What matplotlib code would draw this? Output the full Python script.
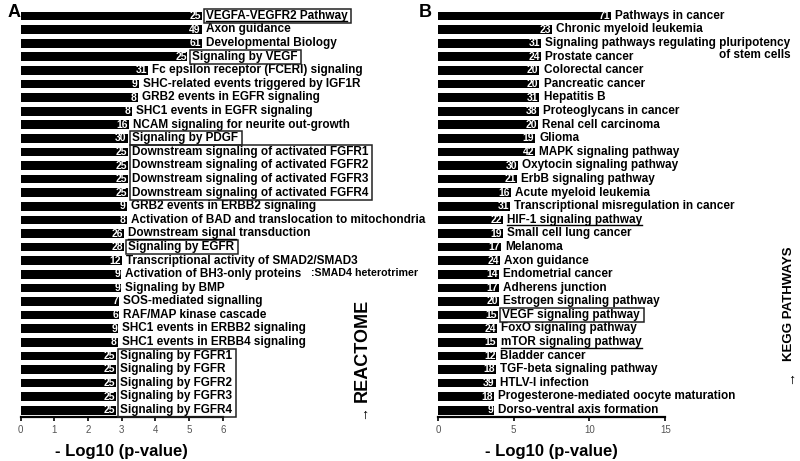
import matplotlib
matplotlib.use('Agg')
import matplotlib.pyplot as plt
from matplotlib.patches import Rectangle
from matplotlib.lines import Line2D

plt.rcParams['font.family'] = ['Liberation Sans', 'DejaVu Sans']

# panel A: REACTOME
reactome_terms = [
    "VEGFA-VEGFR2 Pathway", "Axon guidance", "Developmental Biology",
    "Signaling by VEGF", "Fc epsilon receptor (FCERI) signaling",
    "SHC-related events triggered by IGF1R", "GRB2 events in EGFR signaling",
    "SHC1 events in EGFR signaling", "NCAM signaling for neurite out-growth",
    "Signaling by PDGF",
    "Downstream signaling of activated FGFR1", "Downstream signaling of activated FGFR2",
    "Downstream signaling of activated FGFR3", "Downstream signaling of activated FGFR4",
    "GRB2 events in ERBB2 signaling",
    "Activation of BAD and translocation to mitochondria",
    "Downstream signal transduction", "Signaling by EGFR",
    "Transcriptional activity of SMAD2/SMAD3",
    "Activation of BH3-only proteins", "Signaling by BMP", "SOS-mediated signalling",
    "RAF/MAP kinase cascade", "SHC1 events in ERBB2 signaling",
    "SHC1 events in ERBB4 signaling",
    "Signaling by FGFR1", "Signaling by FGFR", "Signaling by FGFR2",
    "Signaling by FGFR3", "Signaling by FGFR4",
]
reactome_counts = [25, 49, 61, 25, 31, 9, 8, 8, 16, 30, 25, 25, 25, 25, 9, 8, 26, 28,
                   12, 9, 9, 7, 6, 9, 8, 25, 25, 25, 25, 25]
reactome_logp = [5.37, 5.37, 5.37, 4.95, 3.77, 3.50, 3.47, 3.29, 3.20, 3.17,
                 3.17, 3.17, 3.17, 3.17, 3.14, 3.14, 3.06, 3.06, 3.00, 2.97,
                 2.97, 2.91, 2.91, 2.88, 2.88, 2.82, 2.82, 2.82, 2.82, 2.82]
reactome_boxes = [[0], [3], [9], [10, 11, 12, 13], [17], [25, 26, 27, 28, 29]]
reactome_underlines = [(0, None), (16, "Downstream signal")]

# panel B: KEGG
kegg_terms = [
    "Pathways in cancer", "Chronic myeloid leukemia",
    "Signaling pathways regulating pluripotency\nof stem cells",
    "Prostate cancer", "Colorectal cancer", "Pancreatic cancer", "Hepatitis B",
    "Proteoglycans in cancer", "Renal cell carcinoma", "Glioma",
    "MAPK signaling pathway", "Oxytocin signaling pathway", "ErbB signaling pathway",
    "Acute myeloid leukemia", "Transcriptional misregulation in cancer",
    "HIF-1 signaling pathway", "Small cell lung cancer", "Melanoma", "Axon guidance",
    "Endometrial cancer", "Adherens junction", "Estrogen signaling pathway",
    "VEGF signaling pathway", "FoxO signaling pathway", "mTOR signaling pathway",
    "Bladder cancer", "TGF-beta signaling pathway", "HTLV-I infection",
    "Progesterone-mediated oocyte maturation", "Dorso-ventral axis formation",
]
kegg_counts = [71, 23, 31, 24, 20, 20, 31, 38, 20, 19, 42, 30, 21, 16, 31, 22, 19, 17,
               24, 14, 17, 20, 15, 24, 15, 12, 18, 39, 18, 9]
kegg_logp = [11.4, 7.5, 6.8, 6.8, 6.7, 6.7, 6.7, 6.65, 6.6, 6.4, 6.4, 5.3, 5.2, 4.8,
             4.75, 4.3, 4.3, 4.15, 4.1, 4.0, 4.0, 4.0, 3.95, 3.9, 3.9, 3.85, 3.85,
             3.8, 3.7, 3.7]
kegg_boxes = [[22]]
kegg_underlines = [(15, None), (24, None)]

LABEL_SIZE = 8.5

fig = plt.figure(figsize=(8, 4.61), dpi=100)
ax_a = fig.add_axes([0.026, 0.0954, 0.2525, 0.8846])
ax_b = fig.add_axes([0.5475, 0.0954, 0.284, 0.8846])


def draw_panel(ax, terms, counts, vals, xmax, ticks):
    n = len(terms)
    ax.barh(range(n), vals, height=0.64, color='black')
    ax.set_ylim(n - 0.5, -0.5)
    ax.set_xlim(0, xmax)
    ax.set_xticks(ticks)
    ax.set_yticks([])
    for s in ['top', 'right', 'left']:
        ax.spines[s].set_visible(False)
    ax.spines['bottom'].set_linewidth(1.6)
    ax.tick_params(axis='x', length=3, width=1.2, labelsize=7, labelcolor='#555555',
                   pad=3)
    ax.set_xlabel('- Log10 (p-value)', fontsize=12, fontweight='bold', labelpad=6)
    labels = []
    for i, (t, c, v) in enumerate(zip(terms, counts, vals)):
        ax.text(v - xmax * 0.004, i, str(c), ha='right', va='center', color='white',
                fontsize=7.5, fontweight='bold')
        first, _, rest = t.partition('\n')
        lab = ax.annotate(first, xy=(v, i), xytext=(3, 1.2), textcoords='offset points',
                          ha='left', va='center_baseline', fontsize=LABEL_SIZE,
                          fontweight='bold', annotation_clip=False)
        if rest:
            # second line tucked under the first, right aligned
            ax.annotate(rest, xy=(1, 0), xycoords=lab, xytext=(0, 0),
                        textcoords='offset points', ha='right', va='top',
                        fontsize=LABEL_SIZE, fontweight='bold', annotation_clip=False)
        labels.append(lab)
    return labels


labels_a = draw_panel(ax_a, reactome_terms, reactome_counts, reactome_logp, 6,
                      range(0, 7))
labels_b = draw_panel(ax_b, kegg_terms, kegg_counts, kegg_logp, 15, [0, 5, 10, 15])

ax_a.annotate(':SMAD4 heterotrimer', xy=(reactome_logp[18], 18), xytext=(136, -8.5),
              textcoords='offset points', ha='left', va='center', fontsize=7.7,
              fontweight='bold', annotation_clip=False)

fig.text(0.009, 0.972, 'A', fontsize=13, fontweight='bold', va='center')
fig.text(0.524, 0.972, 'B', fontsize=13, fontweight='bold', va='center')

fig.text(0.4525, 0.128, 'REACTOME', rotation=90, fontsize=13, fontweight='bold',
         ha='center', va='bottom')
fig.text(0.4525, 0.107, '\u2192', rotation=90, fontsize=10, ha='center', va='center')
fig.text(0.986, 0.217, 'KEGG PATHWAYS', rotation=90, fontsize=9.5, fontweight='bold',
         ha='center', va='bottom')
fig.text(0.986, 0.182, '\u2192', rotation=90, fontsize=10, ha='center', va='center')

fig.canvas.draw()
renderer = fig.canvas.get_renderer()
inv = fig.transFigure.inverted()


def text_box(lab):
    return lab.get_window_extent(renderer)


def add_boxes(labels, groups):
    for g in groups:
        bbs = [text_box(labels[i]) for i in g]
        x0 = min(b.x0 for b in bbs) - 2
        x1 = max(b.x1 for b in bbs) + 4
        y0 = min(b.y0 for b in bbs) - 1
        y1 = max(b.y1 for b in bbs) + 1
        (fx0, fy0), (fx1, fy1) = inv.transform([(x0, y0), (x1, y1)])
        fig.patches.append(Rectangle((fx0, fy0), fx1 - fx0, fy1 - fy0, fill=False,
                                     edgecolor='#222222', linewidth=1.1,
                                     transform=fig.transFigure, figure=fig))


def add_underlines(labels, items):
    for i, sub in items:
        bb = text_box(labels[i])
        x1 = bb.x1
        if sub is not None:
            tmp = fig.text(0, 0, sub, fontsize=LABEL_SIZE, fontweight='bold')
            x1 = bb.x0 + tmp.get_window_extent(renderer).width
            tmp.remove()
        (fx0, fy), (fx1, _) = inv.transform([(bb.x0, bb.y0 + 0.5), (x1, bb.y0)])
        fig.lines.append(Line2D([fx0, fx1], [fy, fy], color='black', linewidth=1.0,
                                transform=fig.transFigure, figure=fig))


add_boxes(labels_a, reactome_boxes)
add_boxes(labels_b, kegg_boxes)
add_underlines(labels_a, reactome_underlines)
add_underlines(labels_b, kegg_underlines)

fig.savefig('out.png', dpi=100)
